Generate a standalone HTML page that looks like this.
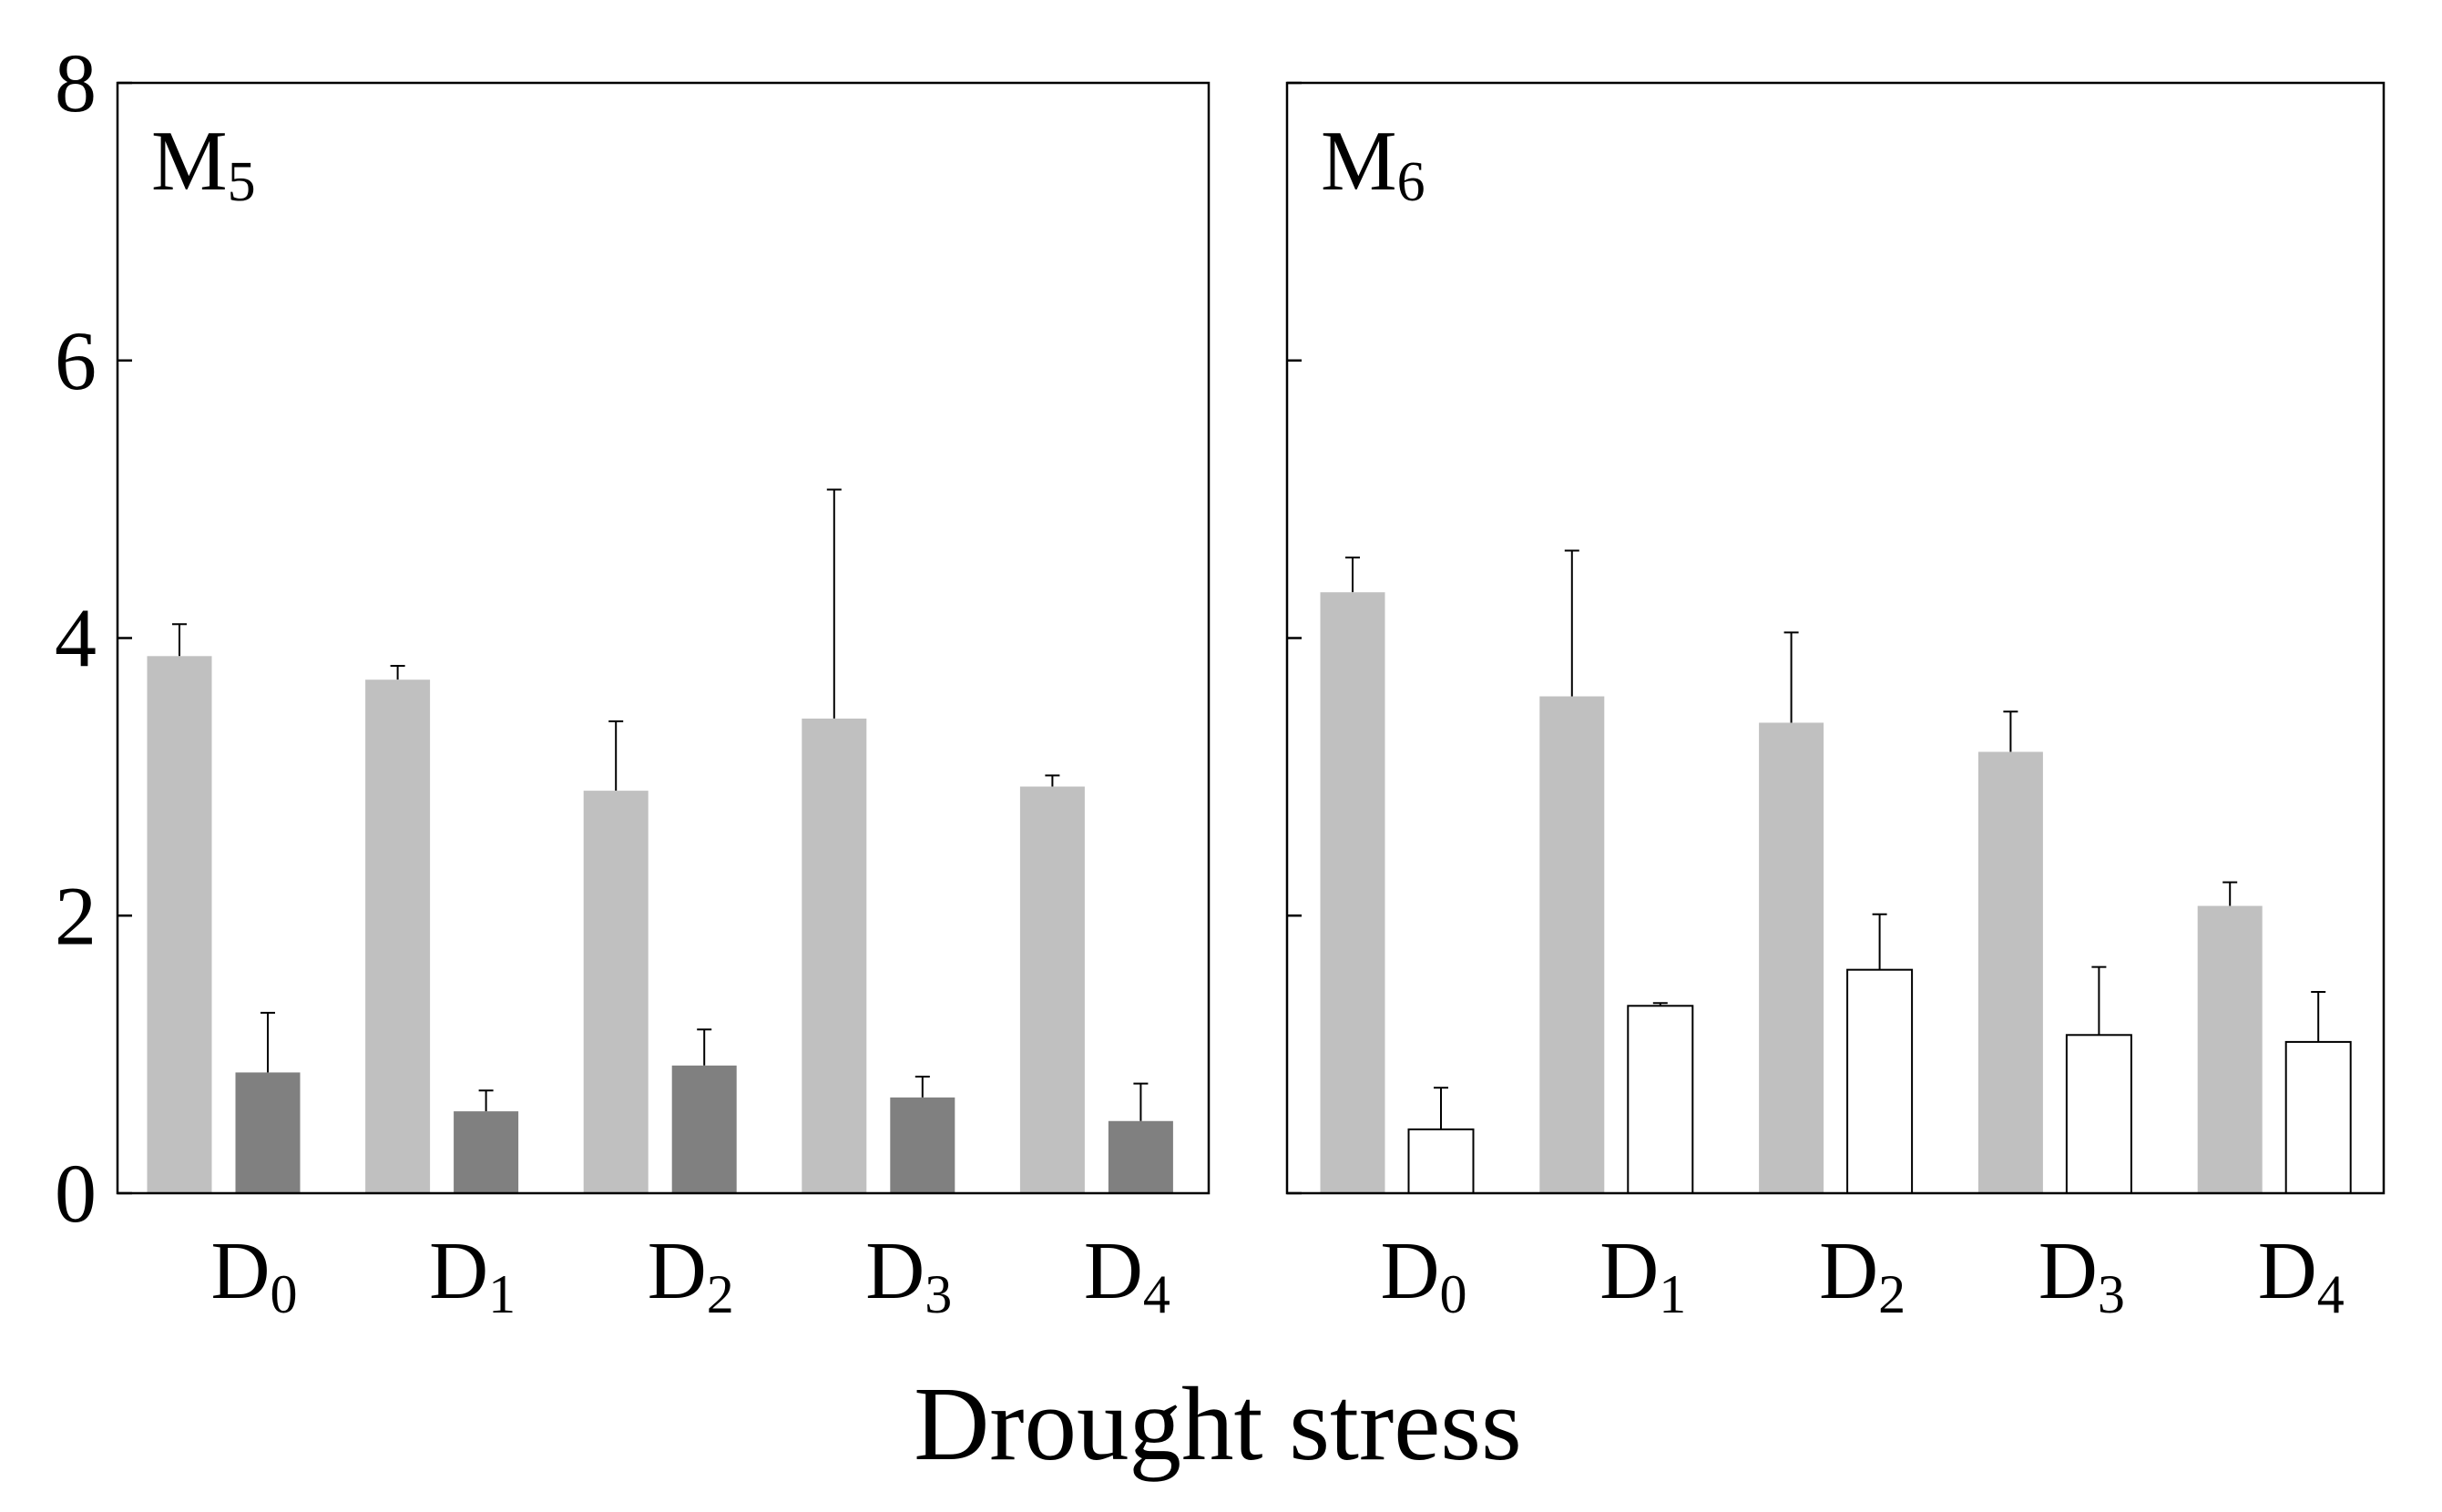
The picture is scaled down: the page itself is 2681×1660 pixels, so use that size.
<!DOCTYPE html>
<html><head><meta charset="utf-8"><style>
html,body{margin:0;padding:0;background:#fff}
svg{display:block}
text{font-family:"Liberation Serif",serif;fill:#000}
</style></head><body>
<svg id="chart" width="2681" height="1660" viewBox="0 0 2681 1660" xmlns="http://www.w3.org/2000/svg">
<g id="g"></g>
<text x="1337" y="1602" font-size="115" text-anchor="middle">Drought stress</text>
</svg>
<script>
const categories = ["0","1","2","3","4"];
const yTicks = [0,2,4,6,8];
const m5Light = [3.87,3.70,2.90,3.42,2.93];
const m5LightErr = [4.10,3.80,3.40,5.07,3.01];
const m5Dark = [0.87,0.59,0.92,0.69,0.52];
const m5DarkErr = [1.30,0.74,1.18,0.84,0.79];
const m6Light = [4.33,3.58,3.39,3.18,2.07];
const m6LightErr = [4.58,4.63,4.04,3.47,2.24];
const m6White = [0.46,1.35,1.61,1.14,1.09];
const m6WhiteErr = [0.76,1.37,2.01,1.63,1.45];

const NS="http://www.w3.org/2000/svg";
const g=document.getElementById('g');
const Y0=1310, Y8=91;
function y(v){return Y0-(v/8)*(Y0-Y8);}
function mk(tag,attrs,parent){const e=document.createElementNS(NS,tag);for(const k in attrs)e.setAttribute(k,attrs[k]);(parent||g).appendChild(e);return e;}

const panels=[
 {x0:129,x1:1327,label:"5",a:m5Light,ae:m5LightErr,b:m5Dark,be:m5DarkErr,bFill:"#808080",bStroke:"none",offA:68,offB:165,name:"m5"},
 {x0:1413,x1:2617,label:"6",a:m6Light,ae:m6LightErr,b:m6White,be:m6WhiteErr,bFill:"#fff",bStroke:"#000",offA:72,offB:169,name:"m6"}
];
const bw=71;
panels.forEach((p,pi)=>{
  const pitch=(p.x1-p.x0)/5;
  categories.forEach((c,i)=>{
    const gx=p.x0+pitch*i;
    [[p.a,p.ae,p.offA,"#c0c0c0","none","light"],[p.b,p.be,p.offB,p.bFill,p.bStroke,pi?"white":"dark"]].forEach(([vals,errs,off,fill,stroke,kind])=>{
      const cx=gx+off;
      const top=y(errs[i]);
      const el=mk('line',{x1:cx,x2:cx,y1:y(vals[i]),y2:top,stroke:"#000","stroke-width":2});
      
      
      const cap=mk('line',{x1:cx-8,x2:cx+8,y1:top,y2:top,stroke:"#000","stroke-width":2});
      
      
      const r=mk('rect',{x:cx-bw/2,y:y(vals[i]),width:bw,height:Y0-y(vals[i]),fill:fill,stroke:stroke,"stroke-width":2});
      
      
    });
    const t=mk('text',{x:gx+150,y:1425,"font-size":90,"text-anchor":"middle"});
    t.innerHTML='D<tspan font-size="60" dy="16">'+c+'</tspan>';
    
    
  });
  const frame=mk('rect',{x:p.x0,y:Y8,width:p.x1-p.x0,height:Y0-Y8,fill:"none",stroke:"#000","stroke-width":2.5});
  
  
  yTicks.forEach(v=>{
    const tk=mk('line',{x1:p.x0,x2:p.x0+16,y1:y(v),y2:y(v),stroke:"#000","stroke-width":2.5});
    
    
    if(pi===0){
      const tl=mk('text',{x:106,y:y(v)+31,"font-size":92,"text-anchor":"end"});
      tl.textContent=v;
      
      
    }
  });
  const pl=mk('text',{x:p.x0+37,y:208,"font-size":94});
  pl.innerHTML='M<tspan font-size="62" dy="12">'+p.label+'</tspan>';
  
  
});
</script>
</body></html>
